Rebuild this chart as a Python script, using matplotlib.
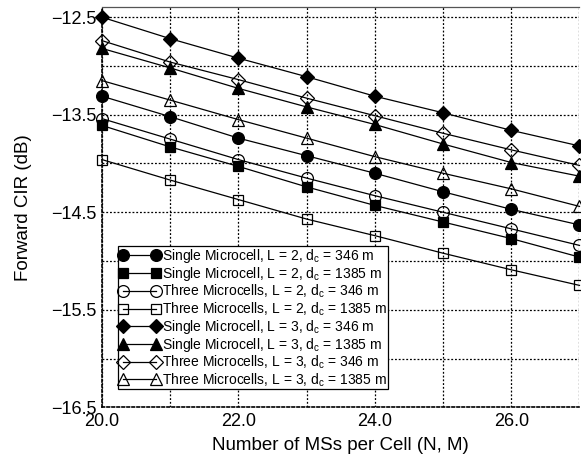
import numpy as np
import matplotlib
matplotlib.use('Agg')
import matplotlib.pyplot as plt
from matplotlib.ticker import MultipleLocator, FuncFormatter

# Data: forward CIR (dB) versus number of MSs per cell
n_ms = [20, 21, 22, 23, 24, 25, 26, 27]

single_l2_346 = [-13.31, -13.52, -13.74, -13.92, -14.10, -14.29, -14.47, -14.63]
single_l2_1385 = [-13.61, -13.83, -14.03, -14.24, -14.43, -14.60, -14.77, -14.96]
three_l2_346 = [-13.54, -13.75, -13.96, -14.15, -14.33, -14.50, -14.67, -14.84]
three_l2_1385 = [-13.96, -14.17, -14.37, -14.57, -14.74, -14.92, -15.09, -15.25]
single_l3_346 = [-12.50, -12.72, -12.92, -13.11, -13.31, -13.48, -13.66, -13.82]
single_l3_1385 = [-12.82, -13.02, -13.23, -13.42, -13.60, -13.80, -13.99, -14.13]
three_l3_346 = [-12.74, -12.96, -13.14, -13.33, -13.51, -13.69, -13.86, -14.02]
three_l3_1385 = [-13.15, -13.35, -13.55, -13.74, -13.93, -14.10, -14.26, -14.44]

labels = [
    'Single Microcell, L = 2, d$_\\mathregular{c}$ = 346 m',
    'Single Microcell, L = 2, d$_\\mathregular{c}$ = 1385 m',
    'Three Microcells, L = 2, d$_\\mathregular{c}$ = 346 m',
    'Three Microcells, L = 2, d$_\\mathregular{c}$ = 1385 m',
    'Single Microcell, L = 3, d$_\\mathregular{c}$ = 346 m',
    'Single Microcell, L = 3, d$_\\mathregular{c}$ = 1385 m',
    'Three Microcells, L = 3, d$_\\mathregular{c}$ = 346 m',
    'Three Microcells, L = 3, d$_\\mathregular{c}$ = 1385 m',
]

series = [single_l2_346, single_l2_1385, three_l2_346, three_l2_1385,
          single_l3_346, single_l3_1385, three_l3_346, three_l3_1385]

# (marker, filled, size)
styles = [('o', True, 8.5), ('s', True, 7.5), ('o', False, 8.5), ('s', False, 7.5),
          ('D', True, 7), ('^', True, 8.5), ('D', False, 7), ('^', False, 8.5)]

plt.rcParams['font.family'] = ['Liberation Sans', 'DejaVu Sans']
plt.rcParams['mathtext.fontset'] = 'custom'
plt.rcParams['mathtext.rm'] = 'Liberation Sans'

fig = plt.figure(figsize=(5.81, 4.57), dpi=100)
ax = fig.add_axes([0.1756, 0.1088, 0.8218, 0.8759])

for y, lab, (mk, filled, ms) in zip(series, labels, styles):
    ax.plot(n_ms, y, color='black', linewidth=0.9, marker=mk, markersize=ms,
            markerfacecolor='black' if filled else 'none',
            markeredgecolor='black', markeredgewidth=0.9,
            label=lab, clip_on=False, zorder=3)

ax.set_xlim(20, 27)
ax.set_ylim(-16.5, -12.395)

ax.xaxis.set_major_locator(MultipleLocator(1))
ax.yaxis.set_major_locator(MultipleLocator(0.5))

def x_fmt(v, pos):
    return f'{v:.1f}' if round(v) % 2 == 0 else ''

def y_fmt(v, pos):
    k = round(v * 2)
    return f'\u2212{abs(v):.1f}' if k % 2 != 0 else ''

ax.xaxis.set_major_formatter(FuncFormatter(x_fmt))
ax.yaxis.set_major_formatter(FuncFormatter(y_fmt))
ax.tick_params(axis='both', length=0, labelsize=13, colors='black')
ax.tick_params(axis='x', pad=4)
ax.tick_params(axis='y', pad=4)

ax.grid(True, color='black', linestyle=(0, (1.5, 1.5)), linewidth=0.9)

ax.spines['right'].set_visible(False)
ax.spines['top'].set_color('#555555')
ax.spines['top'].set_linewidth(0.9)
for side in ('left', 'bottom'):
    ax.spines[side].set_linestyle((0, (1.5, 1.5)))
    ax.spines[side].set_linewidth(1.2)

ax.set_xlabel('Number of MSs per Cell (N, M)', fontsize=13.5, labelpad=5)
ax.set_ylabel('Forward CIR (dB)', fontsize=13.5, labelpad=14)

leg = ax.legend(loc='lower left', bbox_to_anchor=(0.034, 0.045), borderaxespad=0,
                fontsize=10, numpoints=2, handlelength=3.0, handletextpad=0.1,
                labelspacing=0.0, borderpad=0.05, fancybox=False, framealpha=1)
leg.get_frame().set_edgecolor('black')
leg.get_frame().set_linewidth(0.9)
leg.set_zorder(5)

fig.savefig('out.png', dpi=100)
